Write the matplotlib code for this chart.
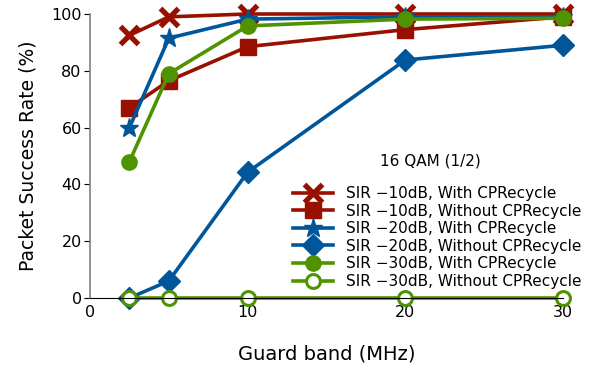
import matplotlib.pyplot as plt

guard = [2.5, 5, 10, 20, 30]
sir10_with = [92.5, 99, 100, 100, 100]
sir10_without = [67, 76.5, 88.5, 94.5, 99]
sir20_with = [60, 91.5, 98.2, 99, 99]
sir20_without = [0, 6, 44.3, 83.8, 89]
sir30_with = [48, 79, 95.8, 98.2, 98.5]
sir30_without = [0, 0, 0, 0, 0]

red = '#990f00'
blue = '#00569a'
green = '#4f9300'

fig = plt.figure(figsize=(5.92, 3.65), dpi=100)
ax = fig.add_axes([90/592, 67/365, 473/592, 284/365])

lw = 2.6
ax.plot(guard, sir10_with, color=red, lw=lw, marker='x', ms=13, mew=3.8, clip_on=False,
        label='SIR \u221210dB, With CPRecycle')
ax.plot(guard, sir10_without, color=red, lw=lw, marker='s', ms=12, clip_on=False,
        label='SIR \u221210dB, Without CPRecycle')
ax.plot(guard, sir20_with, color=blue, lw=lw, marker='*', ms=14, clip_on=False,
        label='SIR \u221220dB, With CPRecycle')
ax.plot(guard, sir20_without, color=blue, lw=lw, marker='D', ms=11, clip_on=False,
        label='SIR \u221220dB, Without CPRecycle')
ax.plot(guard, sir30_with, color=green, lw=lw, marker='o', ms=11, clip_on=False,
        label='SIR \u221230dB, With CPRecycle')
ax.plot(guard, sir30_without, color=green, lw=lw, marker='o', ms=10, mfc='white', mew=2.2,
        clip_on=False, label='SIR \u221230dB, Without CPRecycle')

ax.set_xlim(0, 30)
ax.set_ylim(0, 100)
ax.set_xticks([0, 10, 20, 30])
ax.set_yticks([0, 20, 40, 60, 80, 100])
ax.spines['top'].set_visible(False)
ax.spines['right'].set_visible(False)
ax.spines['left'].set_color('#808080')
ax.spines['left'].set_linewidth(1.2)
ax.spines['bottom'].set_linewidth(0.8)
ax.tick_params(axis='y', direction='out', length=4, labelsize=11.5, pad=2)
ax.tick_params(axis='x', length=0, labelsize=11.5, pad=5)
ax.set_xlabel('Guard band (MHz)', fontsize=14, labelpad=18)
ax.set_ylabel('Packet Success Rate (%)', fontsize=13.5, labelpad=10)

fig.text(430/592, 1 - 161/365, '16 QAM (1/2)', fontsize=11, ha='center', va='center')
ax.legend(loc='upper left', bbox_to_anchor=(293/592, 1 - 186/365),
          bbox_transform=fig.transFigure, frameon=False, fontsize=11,
          handlelength=2.6, handletextpad=0.85, labelspacing=0.17,
          borderaxespad=0, borderpad=0)

fig.savefig('out.png', dpi=100)
